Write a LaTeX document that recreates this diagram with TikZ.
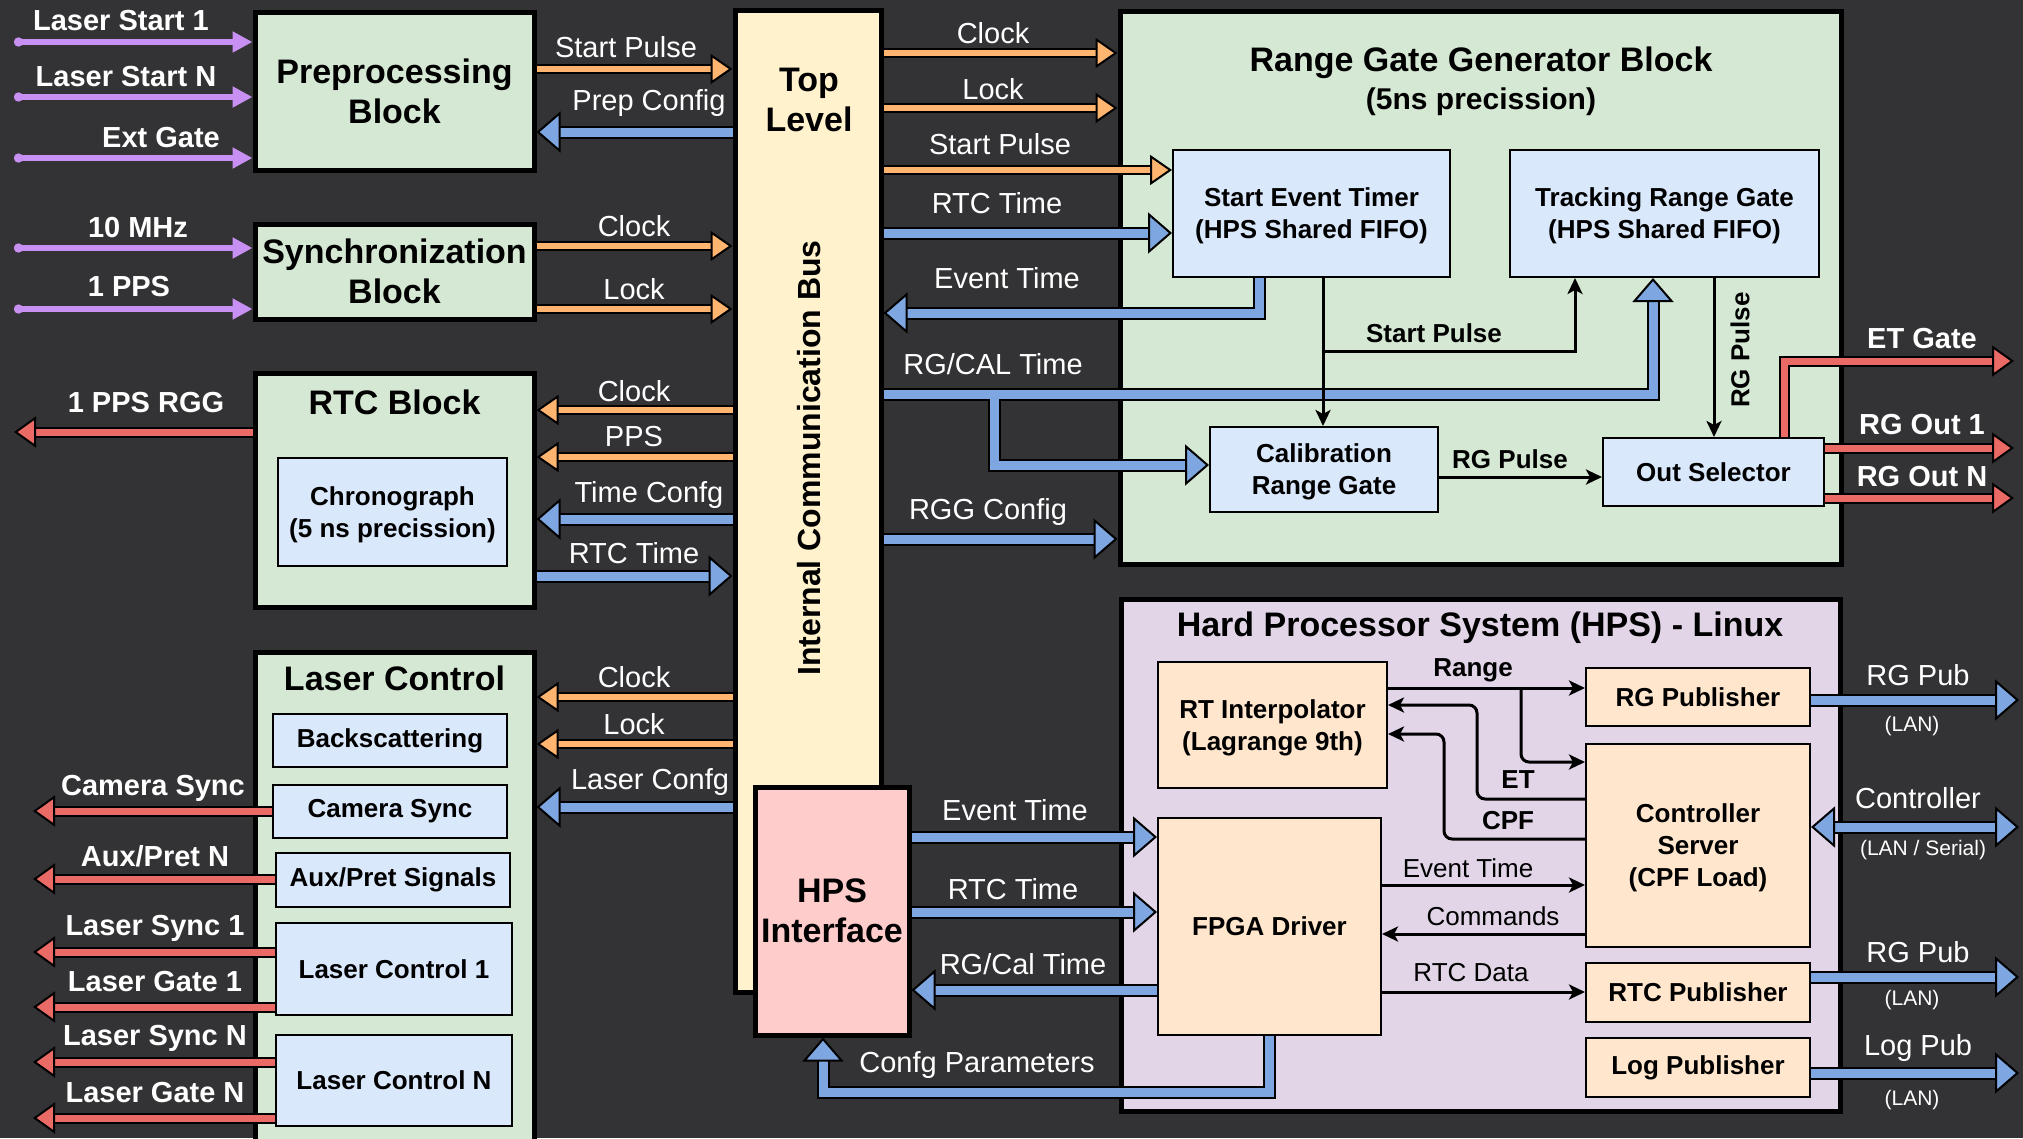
\documentclass[tikz,border=0pt]{standalone}
\usepackage{fontspec}
\setmainfont{Liberation Sans}
\usetikzlibrary{arrows.meta}
\definecolor{bgc}{HTML}{333335}
\definecolor{grn}{HTML}{D5E8D4}
\definecolor{lbl}{HTML}{DAE8FC}
\definecolor{ylw}{HTML}{FFF2CC}
\definecolor{pnk}{HTML}{FFCCCC}
\definecolor{prp}{HTML}{E1D5E7}
\definecolor{obx}{HTML}{FFE6CC}
\definecolor{orc}{HTML}{FFB570}
\definecolor{bluc}{HTML}{7EA6E0}
\definecolor{redc}{HTML}{EA6B66}
\definecolor{purc}{HTML}{C790F2}
\tikzset{
 box/.style={draw=black, line width=5pt, inner sep=0pt, align=center, font=\bfseries\fontsize{34}{40}\selectfont},
 ibox/.style={draw=black, line width=2pt, inner sep=0pt, align=center, font=\bfseries\fontsize{26}{31}\selectfont},
 mline/.style={text depth=0pt, font=\bfseries\fontsize{26}{32}\selectfont},
 wl/.style={text=white, font=\fontsize{29}{34}\selectfont, inner sep=0pt},
 wb/.style={text=white, font=\bfseries\fontsize{29}{34}\selectfont, inner sep=0pt},
 ws/.style={text=white, font=\fontsize{21}{25}\selectfont, inner sep=0pt},
 kb/.style={text=black, font=\bfseries\fontsize{26}{31}\selectfont, inner sep=0pt},
 kl/.style={text=black, font=\fontsize{26}{31}\selectfont, inner sep=0pt},
 ttl/.style={text=black, font=\bfseries\fontsize{34}{40}\selectfont, inner sep=0pt, align=center},
 oarr/.style={draw=orc, line width=6pt, -{Triangle[length=22pt,width=30pt,fill=orc,color=black,line width=2pt]}, preaction={draw=black, line width=10pt, -, shorten >=16pt}},
 rarr/.style={draw=redc, line width=7pt, -{Triangle[length=22pt,width=31pt,fill=redc,color=black,line width=2pt]}, preaction={draw=black, line width=11pt, -, shorten >=16pt}},
 bout/.style={draw=black, line width=13pt, -, shorten >=18pt},
 bin/.style={draw=bluc, line width=9pt, -{Triangle[length=24pt,width=41pt,fill=bluc,color=black,line width=2pt]}},
 barr/.style={bin, preaction={bout}},
 bdbl/.style={draw=bluc, line width=9pt, {Triangle[length=24pt,width=41pt,fill=bluc,color=black,line width=2pt]}-{Triangle[length=24pt,width=41pt,fill=bluc,color=black,line width=2pt]}, preaction={draw=black, line width=13pt, -, shorten >=18pt, shorten <=18pt}},
 parr/.style={draw=purc, line width=5.5pt, {Circle[length=9pt,fill=purc,color=purc]}-{Triangle[length=20pt,width=20pt,fill=purc,color=purc]}},
 karr/.style={draw=black, line width=3pt, rounded corners=8pt, -{Stealth[length=16pt,width=15pt,inset=4pt]}},
}
\begin{document}
\begin{tikzpicture}[x=1pt,y=-1pt]
\useasboundingbox (0,0) rectangle (2023,1138);
\clip (0,0) rectangle (2023,1138);
\fill[bgc] (0,0) rectangle (2023,1138);

% ---------- outer blocks ----------
\node[box, fill=grn, minimum width=279pt, minimum height=158pt] (prep) at (394.5,91) {Preprocessing\\Block};
\node[box, fill=grn, minimum width=279pt, minimum height=95pt] (sync) at (394.5,271.5) {Synchronization\\Block};
\node[box, fill=grn, minimum width=279pt, minimum height=234pt] (rtc) at (394.5,490) {};
\node[ttl] (rtct) at (394.5,402) {RTC Block};
\node[box, fill=grn, minimum width=279pt, minimum height=508pt] (laser) at (394.5,906) {};
\node[ttl] (lasert) at (394.5,678) {Laser Control};
\node[box, fill=ylw, minimum width=146pt, minimum height=982pt] (bus) at (808,501) {};
\node[ttl] (topt) at (809,100) {Top\\Level};
\node[text=black, font=\bfseries\fontsize{32}{38}\selectfont, inner sep=0pt, rotate=90] (bust) at (809,458) {Internal Communication Bus};
\node[box, fill=pnk, minimum width=154pt, minimum height=248pt] (hpsif) at (832,911) {HPS\\Interface};
\node[box, fill=grn, minimum width=721pt, minimum height=553pt] (rgg) at (1480.5,287.5) {};
\node[ttl] (rggt) at (1481,63) {Range Gate Generator Block};
\node[text=black, font=\bfseries\fontsize{30}{36}\selectfont, inner sep=0pt] (rggs) at (1481,102) {(5ns precission)};
\node[box, fill=prp, minimum width=719pt, minimum height=512pt] (hps) at (1480.5,855) {};
\node[ttl] (hpst) at (1480,628) {Hard Processor System (HPS) - Linux};

% ---------- inner blocks ----------
\node[ibox, mline, fill=lbl, minimum width=229pt, minimum height=108pt] (chrono) at (392.5,512) {Chronograph\\(5 ns precission)};
\node[ibox, fill=lbl, minimum width=234pt, minimum height=53pt] (backsc) at (390,740.5) {Backscattering};
\node[ibox, fill=lbl, minimum width=234pt, minimum height=53pt] (camsync) at (390,811.5) {Camera Sync};
\node[ibox, fill=lbl, minimum width=234pt, minimum height=54pt] (aux) at (393,880) {Aux/Pret Signals};
\node[ibox, fill=lbl, minimum width=236pt, minimum height=92pt] (lc1) at (394,969) {Laser Control 1};
\node[ibox, fill=lbl, minimum width=236pt, minimum height=91pt] (lcn) at (394,1080.5) {Laser Control N};

\node[ibox, mline, fill=lbl, minimum width=277pt, minimum height=127pt] (set) at (1311.5,213.5) {Start Event Timer\\(HPS Shared FIFO)};
\node[ibox, mline, fill=lbl, minimum width=309pt, minimum height=127pt] (trg) at (1664.5,213.5) {Tracking Range Gate\\(HPS Shared FIFO)};
\node[ibox, mline, fill=lbl, minimum width=228pt, minimum height=85pt] (cal) at (1324,469.5) {Calibration\\Range Gate};
\node[ibox, fill=lbl, minimum width=221pt, minimum height=68pt] (outsel) at (1713.5,472) {Out Selector};

\node[ibox, mline, fill=obx, minimum width=229pt, minimum height=126pt] (rti) at (1272.5,725) {RT Interpolator\\(Lagrange 9th)};
\node[ibox, fill=obx, minimum width=224pt, minimum height=58pt] (rgpub) at (1698,697) {RG Publisher};
\node[ibox, mline, fill=obx, minimum width=224pt, minimum height=203pt] (ctrl) at (1698,845.5) {Controller\\Server\\(CPF Load)};
\node[ibox, fill=obx, minimum width=224pt, minimum height=59pt] (rtcpub) at (1698,992.5) {RTC Publisher};
\node[ibox, fill=obx, minimum width=224pt, minimum height=59pt] (logpub) at (1698,1067.5) {Log Publisher};
\node[ibox, fill=obx, minimum width=223pt, minimum height=217pt] (fpga) at (1269.5,926.5) {FPGA Driver};

% ---------- free ends ----------
\coordinate (ls1) at (14,42);
\coordinate (lsn) at (14,97);
\coordinate (extg) at (14,158);
\coordinate (mhz) at (14,248);
\coordinate (pps) at (14,309);
\coordinate (ppsrgg) at (14,432);
\coordinate (camo) at (33,811);
\coordinate (auxo) at (33,879);
\coordinate (ls1o) at (33,952);
\coordinate (lg1o) at (33,1007);
\coordinate (lsno) at (33,1062);
\coordinate (lgno) at (33,1118);
\coordinate (etgo) at (2014,361);
\coordinate (rgo1) at (2014,448);
\coordinate (rgon) at (2014,498);
\coordinate (rgpo) at (2019,700);
\coordinate (ctro) at (2019,827);
\coordinate (rtco) at (2019,977);
\coordinate (logo) at (2019,1073);

% ---------- purple inputs ----------
\draw[parr] (ls1) -- (prep.west |- ls1);
\draw[parr] (lsn) -- (prep.west |- lsn);
\draw[parr] (extg) -- (prep.west |- extg);
\draw[parr] (mhz) -- (sync.west |- mhz);
\draw[parr] (pps) -- (sync.west |- pps);

% ---------- left blocks <-> bus ----------
\draw[oarr] (prep.east |- 0,69) -- (bus.west |- 0,69);
\draw[barr] (bus.west |- 0,132) -- (prep.east |- 0,132);
\draw[oarr] (sync.east |- 0,246) -- (bus.west |- 0,246);
\draw[oarr] (sync.east |- 0,309) -- (bus.west |- 0,309);
\draw[oarr] (bus.west |- 0,410) -- (rtc.east |- 0,410);
\draw[oarr] (bus.west |- 0,457) -- (rtc.east |- 0,457);
\draw[barr] (bus.west |- 0,519) -- (rtc.east |- 0,519);
\draw[barr] (rtc.east |- 0,576) -- (bus.west |- 0,576);
\draw[oarr] (bus.west |- 0,697) -- (laser.east |- 0,697);
\draw[oarr] (bus.west |- 0,744) -- (laser.east |- 0,744);
\draw[barr] (bus.west |- 0,807) -- (laser.east |- 0,807);

% ---------- red outputs left ----------
\draw[rarr] (rtc.west |- ppsrgg) -- (ppsrgg);
\draw[rarr] (camsync.west |- camo) -- (camo);
\draw[rarr] (aux.west |- auxo) -- (auxo);
\draw[rarr] (lc1.west |- ls1o) -- (ls1o);
\draw[rarr] (lc1.west |- lg1o) -- (lg1o);
\draw[rarr] (lcn.west |- lsno) -- (lsno);
\draw[rarr] (lcn.west |- lgno) -- (lgno);

% ---------- bus -> RGG ----------
\draw[oarr] (bus.east |- 0,53) -- (rgg.west |- 0,53);
\draw[oarr] (bus.east |- 0,108) -- (rgg.west |- 0,108);
\draw[oarr] (bus.east |- 0,170) -- (set.west |- 0,170);
\draw[barr] (bus.east |- 0,233) -- (set.west |- 0,233);
\draw[barr] (set.south -| 1259,0) -- (1259,313) -- (bus.east |- 0,313);
\draw[bout] (bus.east |- 0,394) -- (994,394) -- (994,465) -- (cal.west |- 0,465);
\draw[bout] (bus.east |- 0,394) -- (1653,394) -- (trg.south -| 1653,0);
\draw[bin] (bus.east |- 0,394) -- (994,394) -- (994,465) -- (cal.west |- 0,465);
\draw[bin] (bus.east |- 0,394) -- (1653,394) -- (trg.south -| 1653,0);
\draw[barr] (bus.east |- 0,539) -- (rgg.west |- 0,539);

% ---------- inside RGG ----------
\draw[karr] (set.south -| 1323,0) -- (cal.north -| 1323,0);
\coordinate (spb) at (1323,351);
\draw[karr, rounded corners=0pt] (spb) -- (1575,351) -- (trg.south -| 1575,0);
\draw[karr] (trg.south -| 1714,0) -- (outsel.north -| 1714,0);
\draw[karr] (cal.east |- 0,477) -- (outsel.west |- 0,477);
\draw[rarr] (outsel.north -| 1784,0) -- (1784,361) -- (etgo);
\draw[rarr] (outsel.east |- rgo1) -- (rgo1);
\draw[rarr] (outsel.east |- rgon) -- (rgon);

% ---------- HPS interface <-> FPGA ----------
\draw[barr] (hpsif.east |- 0,837) -- (fpga.west |- 0,837);
\draw[barr] (hpsif.east |- 0,912) -- (fpga.west |- 0,912);
\draw[barr] (fpga.west |- 0,990) -- (hpsif.east |- 0,990);
\draw[barr] (fpga.south -| 1269,0) -- (1269,1092) -- (823,1092) -- (hpsif.south -| 823,0);

% ---------- inside HPS ----------
\draw[karr] (rti.east |- 0,688) -- (rgpub.west |- 0,688);
\coordinate (rgb) at (1521,688);
\draw[karr] (rgb) -- (1521,762) -- (ctrl.west |- 0,762);
\draw[karr] (ctrl.west |- 0,799) -- (1477,799) -- (1477,705) -- (rti.east |- 0,705);
\draw[karr] (ctrl.west |- 0,839) -- (1444,839) -- (1444,734) -- (rti.east |- 0,734);
\draw[karr] (fpga.east |- 0,885) -- (ctrl.west |- 0,885);
\draw[karr] (ctrl.west |- 0,934) -- (fpga.east |- 0,934);
\draw[karr] (fpga.east |- 0,992) -- (rtcpub.west |- 0,992);

% ---------- right outputs ----------
\draw[barr] (rgpub.east |- rgpo) -- (rgpo);
\draw[bdbl] (ctrl.east |- ctro) -- (ctro);
\draw[barr] (rtcpub.east |- rtco) -- (rtco);
\draw[barr] (logpub.east |- logo) -- (logo);

% ---------- labels ----------
\node[wb] (t1) at (121,21) {Laser Start 1};
\node[wb] (t2) at (126,77) {Laser Start N};
\node[wb] (t3) at (161,138) {Ext Gate};
\node[wb] (t4) at (138,228) {10 MHz};
\node[wb] (t5) at (129,287) {1 PPS};
\node[wb] (t6) at (146,403) {1 PPS RGG};
\node[wb] (t7) at (153,788) {Camera Sync};
\node[wb] (t8) at (155,856) {Aux/Pret N};
\node[wb] (t9) at (155,928) {Laser Sync 1};
\node[wb] (t10) at (155,982) {Laser Gate 1};
\node[wb] (t11) at (155,1038) {Laser Sync N};
\node[wb] (t12) at (155,1092) {Laser Gate N};
\node[wb] (t13) at (1922,339) {ET Gate};
\node[wb] (t14) at (1922,425) {RG Out 1};
\node[wb] (t15) at (1922,477) {RG Out N};

\node[wl] (l1) at (626,47) {Start Pulse};
\node[wl] (l2) at (649,103) {Prep Config};
\node[wl] (l3) at (634,226) {Clock};
\node[wl] (l4) at (634,289) {Lock};
\node[wl] (l5) at (634,391) {Clock};
\node[wl] (l6) at (634,437) {PPS};
\node[wl] (l7) at (649,495) {Time Confg};
\node[wl] (l8) at (634,553) {RTC Time};
\node[wl] (l9) at (634,677) {Clock};
\node[wl] (l10) at (634,724) {Lock};
\node[wl] (l11) at (650,782) {Laser Confg};
\node[wl] (r1) at (993,33) {Clock};
\node[wl] (r2) at (993,89) {Lock};
\node[wl] (r3) at (1000,144) {Start Pulse};
\node[wl] (r4) at (997,203) {RTC Time};
\node[wl] (r5) at (1007,278) {Event Time};
\node[wl] (r6) at (993,364) {RG/CAL Time};
\node[wl] (r7) at (988,512) {RGG Config};
\node[wl] (h1) at (1015,810) {Event Time};
\node[wl] (h2) at (1013,889) {RTC Time};
\node[wl] (h3) at (1023,964) {RG/Cal Time};
\node[wl] (h4) at (977,1065) {Confg Parameters};
\node[wl] (o1) at (1918,675) {RG Pub};
\node[wl] (o2) at (1918,798) {Controller};
\node[wl] (o3) at (1918,952) {RG Pub};
\node[wl] (o4) at (1918,1048) {Log Pub};
\node[ws] (s1) at (1912,726) {(LAN)};
\node[ws] (s2) at (1923,850) {(LAN / Serial)};
\node[ws] (s3) at (1912,1000) {(LAN)};
\node[ws] (s4) at (1912,1100) {(LAN)};

\node[kb] (k1) at (1434,333) {Start Pulse};
\node[kb] (k2) at (1510,459) {RG Pulse};
\node[kb, rotate=90] (k3) at (1740,350) {RG Pulse};
\node[kb] (k4) at (1473,670) {Range};
\node[kb] (k5) at (1518,780) {ET};
\node[kb] (k6) at (1508,821) {CPF};
\node[kl] (k7) at (1468,868) {Event Time};
\node[kl] (k8) at (1493,916) {Commands};
\node[kl] (k9) at (1471,973) {RTC Data};
\end{tikzpicture}
\end{document}
